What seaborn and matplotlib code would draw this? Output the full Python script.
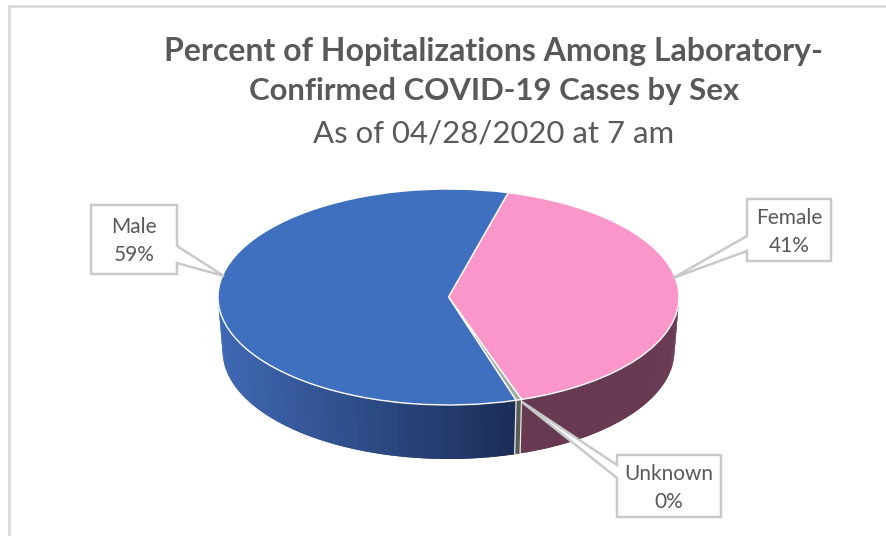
import numpy as np
import matplotlib
matplotlib.use("Agg")
import matplotlib.pyplot as plt
from matplotlib.patches import Polygon
from matplotlib.colors import to_rgb
import seaborn as sns

# Data
categories = ["Female", "Unknown", "Male"]
percents = [40.7, 0.4, 58.9]
percent_labels = ["41%", "0%", "59%"]
title_lines = ["Percent of Hopitalizations Among Laboratory-", "Confirmed COVID-19 Cases by Sex"]
subtitle = "As of 04/28/2020 at 7 am"

sns.set_theme(style="white")
plt.rcParams["font.family"] = ["Lato", "DejaVu Sans"]

top_colors = sns.color_palette(["#fb96ca", "#a3aca3", "#3f6fbf"])
# side wall shade: (left end, right end) of each slice
wall_colors = {
    "Female": ("#60384d", "#6a3b53"),
    "Unknown": ("#454d45", "#454d45"),
    "Male": ("#3f68b3", "#1b2d57"),
}
text_gray = "#595959"
line_gray = "#c9c9c9"

W, H = 886, 536
cx, cy, rx, ry = 448.5, 297, 230.5, 108
depth = 0.5
bottom_scale = 0.98  # lower rim looks a little narrower

fig = plt.figure(figsize=(W / 100, H / 100), dpi=100, facecolor="white")

# pie axes, stretched so the circle lies flat as an ellipse
ax = fig.add_axes([0, 0, 1, 1])
wedges, _ = ax.pie(percents, colors=top_colors, startangle=75, counterclock=False,
                   radius=1, wedgeprops={"edgecolor": "white", "linewidth": 1.0})
ax.set_aspect("auto")
ax.set_xlim(-cx / rx, (W - cx) / rx)
ax.set_ylim((cy - H) / ry, cy / ry)
ax.set_axis_off()

# side wall of the disc, from the wedge angles of the pie
for name, w in zip(categories, wedges):
    lo, hi = max(w.theta1, -180), min(w.theta2, 0)
    if hi <= lo:
        continue
    edges = np.radians(np.linspace(lo, hi, 80))
    c0, c1 = [np.array(to_rgb(c)) for c in wall_colors[name]]
    xs = np.cos(edges)
    for i in range(len(edges) - 1):
        t = (xs[i] + 1) / 2
        if name == "Male":
            t = (xs[i] + 1) / (np.cos(np.radians(hi)) + 1)
        col = c0 + (c1 - c0) * t
        # strips overlap the next one so no seams show
        a, b = edges[i], edges[min(i + 2, len(edges) - 1)]
        ax.fill([np.cos(a), np.cos(b), bottom_scale * np.cos(b), bottom_scale * np.cos(a)],
                [np.sin(a), np.sin(b), np.sin(b) - depth, np.sin(a) - depth],
                color=col, lw=0, zorder=0.5)
    # white seam at the ends of the wall
    if name == "Unknown":
        for e in (edges[0], edges[-1]):
            ax.plot([np.cos(e), bottom_scale * np.cos(e)], [np.sin(e), np.sin(e) - depth],
                    color="#e8e8e8", lw=0.9, zorder=0.6)

# overlay in pixel coordinates for frame, titles and callouts
ov = fig.add_axes([0, 0, 1, 1], facecolor="none")
ov.set_xlim(0, W)
ov.set_ylim(H, 0)
ov.set_axis_off()

ov.plot([9, 9, W], [H, 6, 6], color="#d9d9d9", lw=2, solid_joinstyle="miter")

ov.text(494, 52, title_lines[0], ha="center", va="center", fontsize=23, fontweight="bold", color=text_gray)
ov.text(494, 91, title_lines[1], ha="center", va="center", fontsize=22.4, fontweight="bold", color=text_gray)
ov.text(494, 134, subtitle, ha="center", va="center", fontsize=22.4, color=text_gray)


def callout(points, text_x, text_y, name, pct):
    ov.add_patch(Polygon(points, closed=True, facecolor="white", edgecolor=line_gray,
                         lw=1.8, joinstyle="miter", zorder=3))
    ov.text(text_x, text_y, f"{name}\n{pct}", ha="center", va="center", fontsize=15,
            color=text_gray, linespacing=1.45, zorder=4)


callout([(91, 205), (177, 205), (177, 246), (224, 276), (177, 263), (177, 274), (91, 274)],
        134, 241, categories[2], percent_labels[2])
callout([(747, 199), (831, 199), (831, 261), (747, 261), (747, 251), (673, 278), (747, 236)],
        789, 232, categories[0], percent_labels[0])
callout([(617, 455), (721, 455), (721, 517), (617, 517), (617, 478), (522, 402), (617, 465)],
        669, 488, categories[1], percent_labels[1])

fig.savefig("out.png", dpi=100)
